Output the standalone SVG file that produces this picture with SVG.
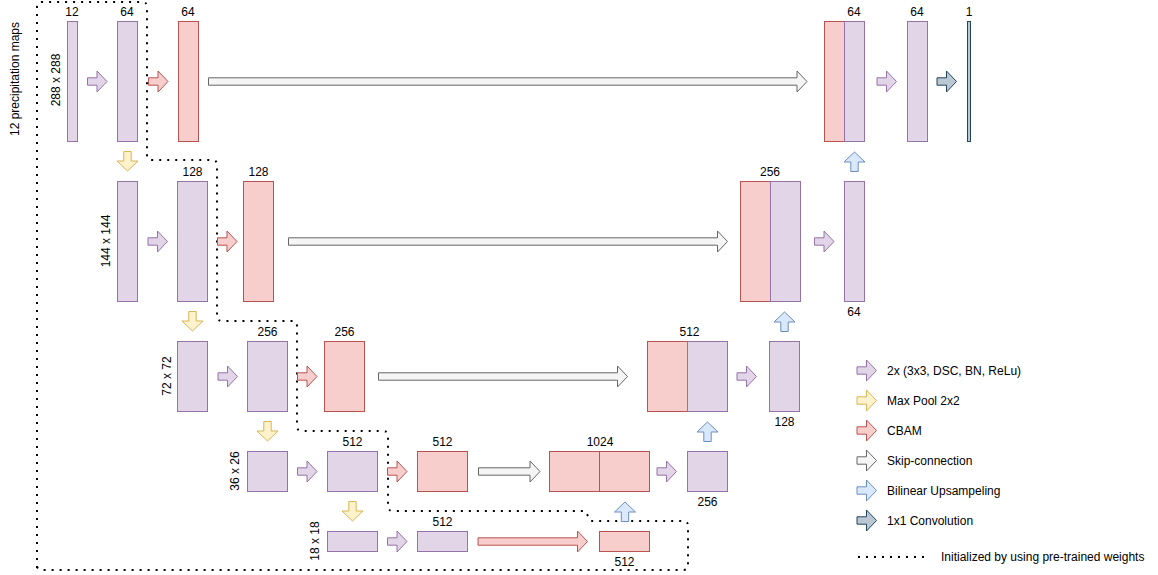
<svg xmlns="http://www.w3.org/2000/svg" xmlns:xlink="http://www.w3.org/1999/xlink" width="1158" height="575" viewBox="0 0 1158 575">
<style>
text{font-family:"Liberation Sans",Arial,sans-serif;font-size:12px;fill:#000}
.c{text-anchor:middle}
.p{fill:#e1d5e7;stroke:#9673a6;stroke-width:1}
.r{fill:#f8cecc;stroke:#b85450;stroke-width:1}
.y{fill:#fff2cc;stroke:#d6b656;stroke-width:1}
.g{fill:#f5f5f5;stroke:#666666;stroke-width:1}
.b{fill:#dae8fc;stroke:#6c8ebf;stroke-width:1}
.d{fill:#bac8d3;stroke:#23445d;stroke-width:1}
.dot{fill:none;stroke:#000;stroke-width:2;stroke-dasharray:2 6}
</style>
<defs>
<path id="arr" d="M-10,-3.7 H-0.5 V-10.5 L9.5,0 L-0.5,10.5 V3.7 H-10 Z"/>
</defs>
<rect width="1158" height="575" fill="#fff"/>

<g id="pretrained">
<path class="dot" d="M37,568 V7 Q37,2 42,2 H142 Q147,2 147,7 V155 Q147,160 152,160 H212 Q217,160 217,165 V316 Q217,321 222,321 H292 Q297,321 297,326 V426 Q297,431 302,431 H383 Q388,431 388,436 V506 Q388,511 393,511 H585 L591,521 H683 Q688,521 688,526 V565 Q688,570 683,570 H42 Q37,570 37,565"/>
<text transform="translate(19,79) rotate(-90)" class="c">12 precipitation maps</text>
</g>

<g id="row1">
<g id="n_in"><rect class="p" x="67.5" y="21.5" width="10" height="120"/><text x="72" y="15.5" class="c">12</text><text transform="translate(60,80) rotate(-90)" class="c">288 x 288</text></g>
<g id="n_e1"><rect class="p" x="117.5" y="21.5" width="20" height="120"/><text x="127" y="15.5" class="c">64</text></g>
<g id="n_c1"><rect class="r" x="178.5" y="21.5" width="20" height="120"/><text x="188" y="15.5" class="c">64</text></g>
<g id="n_d1"><rect class="r" x="824.5" y="21.5" width="20" height="120"/><rect class="p" x="844.5" y="21.5" width="20" height="120"/><text x="854" y="15.5" class="c">64</text></g>
<g id="n_d1b"><rect class="p" x="907.5" y="21.5" width="20" height="120"/><text x="917" y="15.5" class="c">64</text></g>
<g id="n_out"><rect class="d" x="967.5" y="21.5" width="3" height="120"/><text x="969" y="15.5" class="c">1</text></g>
</g>

<g id="row2">
<g id="n_e2a"><rect class="p" x="117.5" y="181.5" width="20" height="120"/><text transform="translate(110,241) rotate(-90)" class="c">144 x 144</text></g>
<g id="n_e2"><rect class="p" x="177.5" y="181.5" width="30" height="120"/><text x="192.5" y="175.5" class="c">128</text></g>
<g id="n_c2"><rect class="r" x="243.5" y="181.5" width="30" height="120"/><text x="258.5" y="175.5" class="c">128</text></g>
<g id="n_d2"><rect class="r" x="740.5" y="181.5" width="30" height="120"/><rect class="p" x="770.5" y="181.5" width="30" height="120"/><text x="770" y="175.5" class="c">256</text></g>
<g id="n_d2b"><rect class="p" x="844.5" y="181.5" width="20" height="120"/><text x="854" y="315.5" class="c">64</text></g>
</g>

<g id="row3">
<g id="n_e3a"><rect class="p" x="177.5" y="341.5" width="30" height="70"/><text transform="translate(171,376) rotate(-90)" class="c">72 x 72</text></g>
<g id="n_e3"><rect class="p" x="247.5" y="341.5" width="40" height="70"/><text x="267.5" y="335.5" class="c">256</text></g>
<g id="n_c3"><rect class="r" x="324.5" y="341.5" width="40" height="70"/><text x="344.5" y="335.5" class="c">256</text></g>
<g id="n_d3"><rect class="r" x="647.5" y="341.5" width="40" height="70"/><rect class="p" x="687.5" y="341.5" width="40" height="70"/><text x="689.5" y="335.5" class="c">512</text></g>
<g id="n_d3b"><rect class="p" x="769.5" y="341.5" width="30" height="70"/><text x="784.5" y="425.5" class="c">128</text></g>
</g>

<g id="row4">
<g id="n_e4a"><rect class="p" x="247.5" y="451.5" width="40" height="40"/><text transform="translate(239,471) rotate(-90)" class="c">36 x 26</text></g>
<g id="n_e4"><rect class="p" x="327.5" y="451.5" width="50" height="40"/><text x="352.5" y="445.5" class="c">512</text></g>
<g id="n_c4"><rect class="r" x="417.5" y="451.5" width="50" height="40"/><text x="442.5" y="445.5" class="c">512</text></g>
<g id="n_d4"><rect class="r" x="549.5" y="451.5" width="50" height="40"/><rect class="r" x="599.5" y="451.5" width="50" height="40"/><text x="600" y="445.5" class="c">1024</text></g>
<g id="n_d4b"><rect class="p" x="687.5" y="451.5" width="40" height="40"/><text x="707.5" y="505.5" class="c">256</text></g>
</g>

<g id="row5">
<g id="n_e5a"><rect class="p" x="327.5" y="531.5" width="50" height="20"/><text transform="translate(319,541) rotate(-90)" class="c">18 x 18</text></g>
<g id="n_e5"><rect class="p" x="417.5" y="531.5" width="50" height="20"/><text x="442.5" y="525.5" class="c">512</text></g>
<g id="n_c5"><rect class="r" x="599.5" y="531.5" width="50" height="20"/><text x="624.5" y="566" class="c">512</text></g>
</g>

<g id="connectors">
<!-- double conv (purple) -->
<use xlink:href="#arr" class="p" transform="translate(97.5,81.5)"/>
<use xlink:href="#arr" class="p" transform="translate(887,81.5)"/>
<use xlink:href="#arr" class="p" transform="translate(158,241.5)"/>
<use xlink:href="#arr" class="p" transform="translate(824.5,241.5)"/>
<use xlink:href="#arr" class="p" transform="translate(228,376.5)"/>
<use xlink:href="#arr" class="p" transform="translate(747,376.5)"/>
<use xlink:href="#arr" class="p" transform="translate(307.5,471.5)"/>
<use xlink:href="#arr" class="p" transform="translate(667,471.5)"/>
<use xlink:href="#arr" class="p" transform="translate(397.5,541.5)"/>
<!-- CBAM (red) -->
<use xlink:href="#arr" class="r" transform="translate(158.5,81.5)"/>
<use xlink:href="#arr" class="r" transform="translate(227.5,241.5)"/>
<use xlink:href="#arr" class="r" transform="translate(307.5,376.5)"/>
<use xlink:href="#arr" class="r" transform="translate(397.5,471.5)"/>
<path class="r" d="M478,537.8 H577.5 V531 L587.5,541.5 L577.5,552 V545.2 H478 Z"/>
<!-- 1x1 conv -->
<use xlink:href="#arr" class="d" transform="translate(947,81.5)"/>
<!-- max pool (down) -->
<use xlink:href="#arr" class="y" transform="translate(127.5,161.5) rotate(90)"/>
<use xlink:href="#arr" class="y" transform="translate(192.5,321.5) rotate(90)"/>
<use xlink:href="#arr" class="y" transform="translate(267.5,431.5) rotate(90)"/>
<use xlink:href="#arr" class="y" transform="translate(352.5,511.5) rotate(90)"/>
<!-- upsampling (up) -->
<use xlink:href="#arr" class="b" transform="translate(854.5,161.5) rotate(-90)"/>
<use xlink:href="#arr" class="b" transform="translate(784.5,321.5) rotate(-90)"/>
<use xlink:href="#arr" class="b" transform="translate(707.5,431.5) rotate(-90)"/>
<use xlink:href="#arr" class="b" transform="translate(625,511.5) rotate(-90)"/>
<!-- skip connections -->
<path class="g" d="M208.5,77.8 H797 V71 L807,81.5 L797,92 V85.2 H208.5 Z"/>
<path class="g" d="M288.5,237.8 H717.5 V231 L727.5,241.5 L717.5,252 V245.2 H288.5 Z"/>
<path class="g" d="M378.5,372.8 H617.5 V366 L627.5,376.5 L617.5,387 V380.2 H378.5 Z"/>
<path class="g" d="M478.5,467.8 H530 V461 L540,471.5 L530,482 V475.2 H478.5 Z"/>
</g>

<g id="legend">
<use xlink:href="#arr" class="p" transform="translate(867,370.5)"/><text x="887" y="374.5">2x (3x3, DSC, BN, ReLu)</text>
<use xlink:href="#arr" class="y" transform="translate(867,400.5)"/><text x="887" y="404.5">Max Pool 2x2</text>
<use xlink:href="#arr" class="r" transform="translate(867,430.5)"/><text x="887" y="434.5">CBAM</text>
<use xlink:href="#arr" class="g" transform="translate(867,460.5)"/><text x="887" y="464.5">Skip-connection</text>
<use xlink:href="#arr" class="b" transform="translate(867,490.5)"/><text x="887" y="494.5">Bilinear Upsampeling</text>
<use xlink:href="#arr" class="d" transform="translate(867,520.5)"/><text x="887" y="524.5">1x1 Convolution</text>
<path class="dot" d="M858,557 H926"/><text x="941" y="561">Initialized by using pre-trained weights</text>
</g>
</svg>
